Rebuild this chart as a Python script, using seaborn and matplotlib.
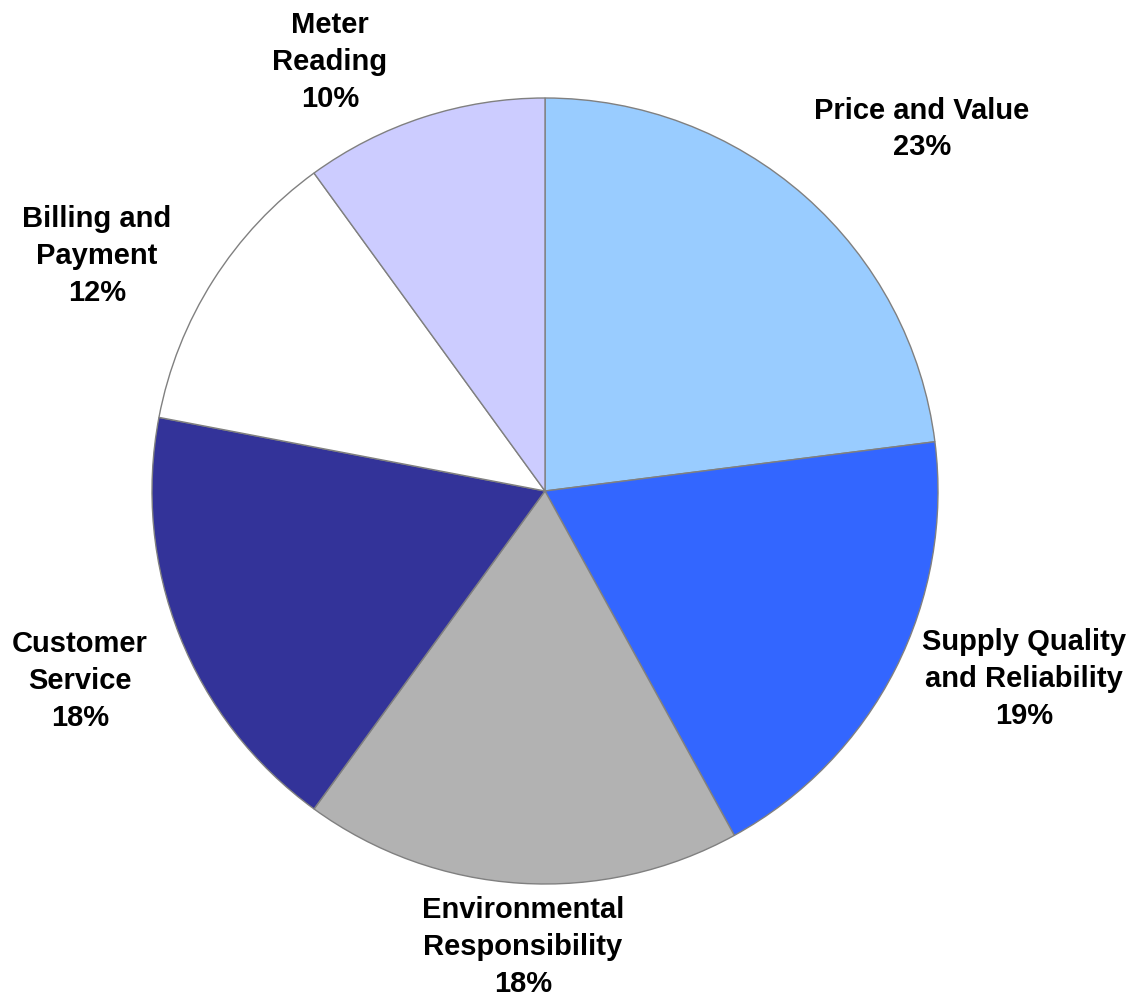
import matplotlib
matplotlib.use("Agg")
import matplotlib.pyplot as plt
import seaborn as sns

# data
categorias = ["Price and Value", "Supply Quality\nand Reliability", "Environmental\nResponsibility",
              "Customer\nService", "Billing and\nPayment", "Meter\nReading"]
valores = [23, 19, 18, 18, 12, 10]
colores = ["#99CCFF", "#3366FF", "#B2B2B2", "#333399", "#FFFFFF", "#CCCCFF"]

sns.set_theme(style="white")
plt.rcParams["font.family"] = ["Liberation Sans", "DejaVu Sans"]

fig = plt.figure(figsize=(11.37, 9.99), dpi=100)
ax = fig.add_axes([0, 0, 1, 1])

H = 999
centro = (545, H - 491)
radio = 393

ax.pie(valores, colors=colores, startangle=90, counterclock=False,
       center=centro, radius=radio, frame=True,
       wedgeprops=dict(edgecolor="#808080", linewidth=1.0))
ax.set_xlim(0, 1137)
ax.set_ylim(0, 999)
ax.set_aspect("equal")
ax.axis("off")

# posiciones de etiquetas (pixeles)
pos_labels = [(922, 129), (1024, 679), (523, 947), (80, 681), (97, 256), (330, 62)]
for cat, val, (px, py) in zip(categorias, valores, pos_labels):
    ax.text(px, H - py, f"{cat}\n{val}%", ha="center", va="center",
            fontsize=21, fontweight="bold", linespacing=1.4, color="black")

plt.savefig("out.png", dpi=100)
